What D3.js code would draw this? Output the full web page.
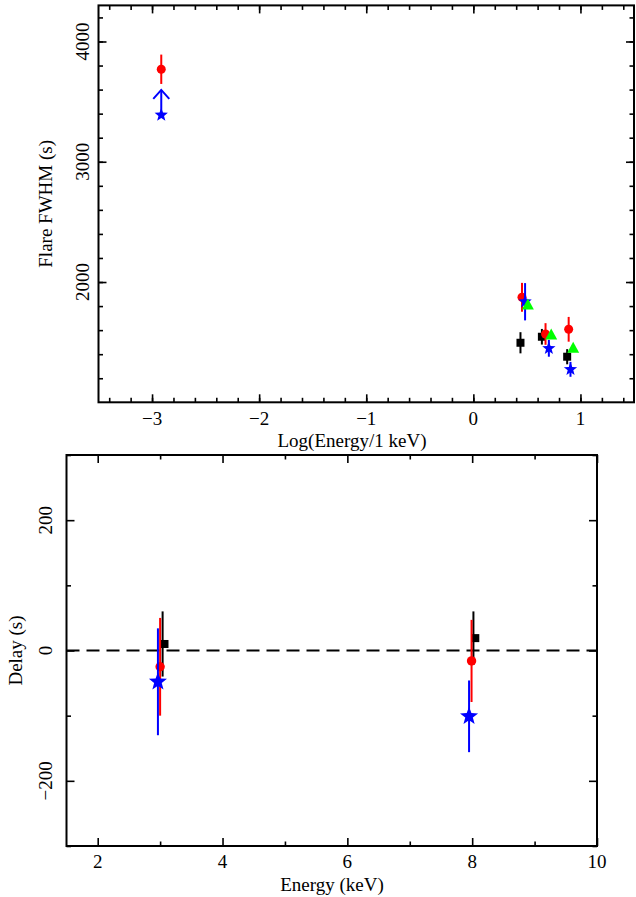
<!DOCTYPE html>
<html><head><meta charset="utf-8">
<script src="https://cdn.jsdelivr.net/npm/d3@7"></script>
<style>
body{margin:0;background:#fff}
text{font-family:"Liberation Serif","Times New Roman",serif;font-size:19px;fill:#000}
</style>
</head><body>
<svg id="c" width="636" height="897"></svg>
<script>
// ---------- DATA ----------
// Top panel: Flare FWHM vs Log(Energy/1 keV)
const topXTicks = [-3, -2, -1, 0, 1];
const topYTicks = [2000, 3000, 4000];
const blackTopX = [0.44, 0.64, 0.876];
const blackTopY = [1495, 1545, 1379];
const blackTopErr = [88, 65, 63];
const redTopX = [-2.914, 0.454, 0.674, 0.89];
const redTopY = [3769, 1873, 1568, 1607];
const redTopErr = [122, 120, 90, 103];
const blueTopX = [0.483, 0.705, 0.907];
const blueTopY = [1836, 1449, 1274];
const blueTopErr = [155, 70, 62];
const blueLimitX = [-2.914];
const blueLimitY = [3389];   // lower limit
const blueLimitTo = [3597];  // arrow tip
const greenTopX = [0.509, 0.727, 0.932];
const greenTopY = [1809, 1559, 1449];

// Bottom panel: Delay vs Energy (keV)
const botXTicks = [2, 4, 6, 8, 10];
const botYTicks = [-200, 0, 200];
const blackBotX = [3.04, 8.02];
const blackBotY = [10, 19];
const blackBotErr = [50, 41];
const redBotX = [3.0, 7.99];
const redBotY = [-25, -16];
const redBotErr = [75, 63];
const blueBotX = [2.965, 7.95];
const blueBotY = [-48, -101];
const blueBotErr = [82, 55];

// ---------- DRAW ----------
const svg = d3.select("#c");
svg.append("rect").attr("width",636).attr("height",897).attr("fill","#fff");

function range(a,b,s){const r=[];for(let v=a;v<=b+1e-9;v+=s)r.push(+v.toFixed(6));return r;}

function starPath(R){
  const r=R*0.42;let p="";
  for(let i=0;i<10;i++){
    const rad=i%2===0?R:r;
    const a=-Math.PI/2+i*Math.PI/5;
    p+=(i?"L":"M")+(rad*Math.cos(a)).toFixed(2)+","+(rad*Math.sin(a)).toFixed(2);
  }
  return p+"Z";
}

function frame(x,y,xMaj,xMin,yMaj,yMin){
  const [x0,x1]=x.range(), [y0,y1]=y.range();
  const g=svg.append("g");
  const ax=(gen,tv,len,tr)=>{
    const a=g.append("g").attr("transform",tr).call(gen.tickValues(tv).tickSize(-len).tickFormat(""));
    a.select(".domain").remove();
    a.selectAll("line").attr("stroke","#000").attr("stroke-width",1.6);
  };
  ax(d3.axisBottom(x),xMaj,8,`translate(0,${y0})`);
  ax(d3.axisBottom(x),xMin,4.5,`translate(0,${y0})`);
  ax(d3.axisTop(x),xMaj,8,`translate(0,${y1})`);
  ax(d3.axisTop(x),xMin,4.5,`translate(0,${y1})`);
  ax(d3.axisLeft(y),yMaj,8,`translate(${x0},0)`);
  ax(d3.axisLeft(y),yMin,4.5,`translate(${x0},0)`);
  ax(d3.axisRight(y),yMaj,8,`translate(${x1},0)`);
  ax(d3.axisRight(y),yMin,4.5,`translate(${x1},0)`);
  g.append("rect").attr("x",x0).attr("y",y1).attr("width",x1-x0).attr("height",y0-y1)
    .attr("fill","none").attr("stroke","#000").attr("stroke-width",2);
  return g;
}

const fmt = d3.format("d");
function labels(x,y,xt,yt,xBase,yLabX,xTitle,xTitleX,xTitleBase,yTitle,yTitleX){
  const g=svg.append("g");
  g.selectAll(".xl").data(xt).join("text").attr("x",d=>x(d)).attr("y",xBase)
    .attr("text-anchor","middle").text(d=>fmt(d).replace("-","\u2212"));
  g.selectAll(".yl").data(yt).join("text")
    .attr("transform",d=>`translate(${yLabX},${y(d)}) rotate(-90)`)
    .attr("dy","0.35em").attr("text-anchor","middle").text(d=>fmt(d).replace("-","\u2212"));
  g.append("text").attr("x",xTitleX).attr("y",xTitleBase).attr("text-anchor","middle").text(xTitle);
  const [ya,yb]=y.range();
  g.append("text").attr("transform",`translate(${yTitleX},${(ya+yb)/2}) rotate(-90)`)
    .attr("dy","0.35em").attr("text-anchor","middle").text(yTitle);
}

function errBars(g,x,y,X,Y,E,color){
  g.selectAll(null).data(X.map((d,i)=>[d,Y[i],E[i]])).join("line")
    .attr("x1",d=>x(d[0])).attr("x2",d=>x(d[0]))
    .attr("y1",d=>y(d[1]-d[2])).attr("y2",d=>y(d[1]+d[2]))
    .attr("stroke",color).attr("stroke-width",2);
}
function squares(g,x,y,X,Y,s){
  g.selectAll(null).data(X.map((d,i)=>[d,Y[i]])).join("rect")
    .attr("x",d=>x(d[0])-s/2).attr("y",d=>y(d[1])-s/2).attr("width",s).attr("height",s).attr("fill","#000");
}
function circles(g,x,y,X,Y,r){
  g.selectAll(null).data(X.map((d,i)=>[d,Y[i]])).join("circle")
    .attr("cx",d=>x(d[0])).attr("cy",d=>y(d[1])).attr("r",r).attr("fill","#f00");
}
function stars(g,x,y,X,Y,R){
  g.selectAll(null).data(X.map((d,i)=>[d,Y[i]])).join("path")
    .attr("d",starPath(R)).attr("transform",d=>`translate(${x(d[0])},${y(d[1])})`).attr("fill","#00f");
}
function tris(g,x,y,X,Y,w,h){
  g.selectAll(null).data(X.map((d,i)=>[d,Y[i]])).join("path")
    .attr("d",`M0,${-h*0.6}L${w/2},${h*0.4}L${-w/2},${h*0.4}Z`)
    .attr("transform",d=>`translate(${x(d[0])},${y(d[1])})`).attr("fill","#0f0");
}

// ---- Top panel ----
const xT = d3.scaleLinear().domain([-3.5,1.5]).range([98.5,634]);
const yT = d3.scaleLinear().domain([1000,4300]).range([402.3,5.4]);
frame(xT,yT,topXTicks,range(-3.4,1.4,0.2),topYTicks,range(1200,4200,200));
labels(xT,yT,topXTicks,topYTicks,425,82,"Log(Energy/1 keV)",352,447,"Flare FWHM (s)",45);
const gT=svg.append("g");
errBars(gT,xT,yT,blackTopX,blackTopY,blackTopErr,"#000");
squares(gT,xT,yT,blackTopX,blackTopY,8);
errBars(gT,xT,yT,redTopX,redTopY,redTopErr,"#f00");
circles(gT,xT,yT,redTopX,redTopY,4.5);
errBars(gT,xT,yT,blueTopX,blueTopY,blueTopErr,"#00f");
stars(gT,xT,yT,blueTopX,blueTopY,7);
// lower limit arrow
blueLimitX.forEach((d,i)=>{
  const px=xT(d), yb=yT(blueLimitY[i]), yt=yT(blueLimitTo[i]);
  gT.append("line").attr("x1",px).attr("x2",px).attr("y1",yb).attr("y2",yt).attr("stroke","#00f").attr("stroke-width",2);
  gT.append("polyline").attr("points",`${px-8},${yt+9} ${px},${yt} ${px+8},${yt+9}`)
    .attr("fill","none").attr("stroke","#00f").attr("stroke-width",2);
});
stars(gT,xT,yT,blueLimitX,blueLimitY,7);
tris(gT,xT,yT,greenTopX,greenTopY,12,11);

// ---- Bottom panel ----
const xB = d3.scaleLinear().domain([1.5,10]).range([66.5,597]);
const yB = d3.scaleLinear().domain([-300,300]).range([846,455]);
frame(xB,yB,botXTicks,range(3,9,2),botYTicks,range(-300,300,100).filter(v=>v%200!==0));
labels(xB,yB,botXTicks,botYTicks,868,45,"Energy (keV)",332,891,"Delay (s)",15);
const gB=svg.append("g");
gB.append("line").attr("x1",xB.range()[0]).attr("x2",xB.range()[1]).attr("y1",yB(0)).attr("y2",yB(0))
  .attr("stroke","#000").attr("stroke-width",1.8).attr("stroke-dasharray","13,7");
errBars(gB,xB,yB,blackBotX,blackBotY,blackBotErr,"#000");
squares(gB,xB,yB,blackBotX.map(d=>d+0.03),blackBotY,8);
errBars(gB,xB,yB,redBotX,redBotY,redBotErr,"#f00");
circles(gB,xB,yB,redBotX,redBotY,4.7);
errBars(gB,xB,yB,blueBotX,blueBotY,blueBotErr,"#00f");
stars(gB,xB,yB,blueBotX,blueBotY,9.5);
</script>
</body></html>
